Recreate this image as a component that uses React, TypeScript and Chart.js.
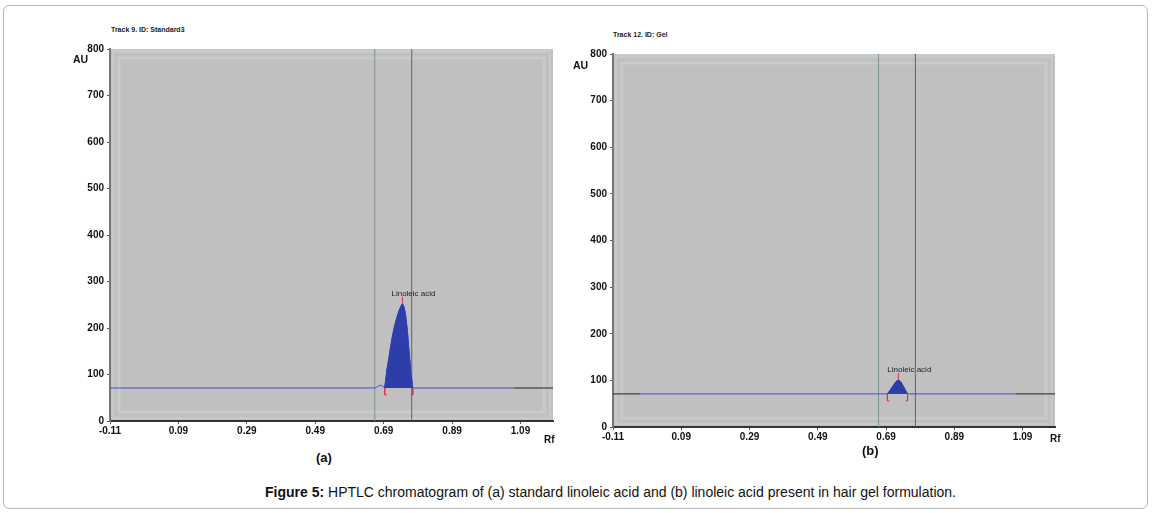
import React, { useEffect, useRef } from "react";
import { Chart, registerables } from "chart.js";
Chart.register(...registerables);

// ---- data ----
const xTickValues = [-0.11, 0.09, 0.29, 0.49, 0.69, 0.89, 1.09];
const yTickValues = [0, 100, 200, 300, 400, 500, 600, 700, 800];
const baselineAU = 71;

// Panel (a) – Track 9, Standard3
const bumpA_rf = [0.664, 0.672, 0.68, 0.687, 0.693];
const bumpA_au = [71, 74, 77, 75, 71];
const peakA_rf = [0.693, 0.7, 0.708, 0.715, 0.722, 0.73, 0.737, 0.742, 0.745, 0.75, 0.754, 0.759, 0.763, 0.769, 0.775];
const peakA_au = [71, 112, 148, 180, 205, 226, 241, 249, 252, 244, 228, 196, 160, 108, 71];
const windowA_rf = [0.664, 0.772];
const traceA_range = [-0.11, 1.07];

// Panel (b) – Track 12, Gel
const peakB_rf = [0.694, 0.703, 0.712, 0.72, 0.726, 0.733, 0.741, 0.748, 0.753];
const peakB_au = [71, 80, 90, 98, 101, 97, 87, 77, 71];
const windowB_rf = [0.668, 0.776];
const traceB_range = [-0.03, 1.07];

const X_MIN = -0.11;
const X_MAX = 1.185;

type Panel = {
  title: string;
  bump: { x: number; y: number }[];
  peak: { x: number; y: number }[];
  windowRf: number[];
  traceRange: number[];
  pad: { top: number; right: number };
  yW: number;
  xH: number;
};

const toPts = (xs: number[], ys: number[]) => xs.map((x, i) => ({ x, y: ys[i] }));

const panels: Panel[] = [
  {
    title: "Track 9. ID: Standard3",
    bump: toPts(bumpA_rf, bumpA_au),
    peak: toPts(peakA_rf, peakA_au),
    windowRf: windowA_rf,
    traceRange: traceA_range,
    pad: { top: 9, right: 7 },
    yW: 50,
    xH: 29,
  },
  {
    title: "Track 12. ID: Gel",
    bump: [],
    peak: toPts(peakB_rf, peakB_au),
    windowRf: windowB_rf,
    traceRange: traceB_range,
    pad: { top: 9, right: 8 },
    yW: 50,
    xH: 28,
  },
];

const tickFont = "'Liberation Sans Narrow', 'Arial Narrow', 'Liberation Sans', Arial, sans-serif";

const bgPlugin = {
  id: "plotBg",
  beforeDraw(chart: any) {
    const { ctx, chartArea: a } = chart;
    ctx.save();
    ctx.fillStyle = "#c0c0c0";
    ctx.fillRect(a.left, a.top, a.right - a.left, a.bottom - a.top);
    ctx.strokeStyle = "rgba(200,208,200,0.75)";
    ctx.lineWidth = 3;
    ctx.strokeRect(a.left + 9, a.top + 9, a.right - a.left - 18, a.bottom - a.top - 18);
    ctx.strokeStyle = "rgba(204,206,204,0.7)";
    ctx.lineWidth = 2;
    ctx.strokeRect(a.left + 3, a.top + 3, a.right - a.left - 6, a.bottom - a.top - 6);
    ctx.fillStyle = "#c8c8c8";
    ctx.fillRect(a.left, a.top, a.right - a.left, 2);
    ctx.restore();
  },
};

const labelPlugin = {
  id: "peakLabel",
  afterDatasetsDraw(chart: any) {
    const peak = (chart.options.plugins as any).peakLabel?.peak as { x: number; y: number }[];
    if (!peak || !peak.length) return;
    let apex = peak[0];
    peak.forEach((p) => {
      if (p.y > apex.y) apex = p;
    });
    const xs = chart.scales.x;
    const ys = chart.scales.y;
    const px = xs.getPixelForValue(apex.x);
    const py = ys.getPixelForValue(apex.y);
    const ctx = chart.ctx;
    ctx.save();
    ctx.strokeStyle = "#e0304a";
    ctx.lineWidth = 1;
    ctx.beginPath();
    ctx.moveTo(px, py);
    ctx.lineTo(px, py - 7);
    ctx.stroke();
    ctx.fillStyle = "#222";
    ctx.font = "8px 'Liberation Sans', Arial, sans-serif";
    ctx.textAlign = "center";
    ctx.textBaseline = "bottom";
    ctx.fillText("Linoleic acid", px + 11, py - 6);
    ctx.restore();
  },
};

function PanelChart({ p, style }: { p: Panel; style: React.CSSProperties }) {
  const ref = useRef<HTMLCanvasElement>(null);
  useEffect(() => {
    if (!ref.current) return;
    const last = p.peak[p.peak.length - 1];
    const trace = [
      { x: p.traceRange[0], y: baselineAU },
      ...p.bump,
      ...p.peak,
      { x: p.traceRange[1], y: baselineAU },
    ];
    const blackBase: any[] = [];
    if (p.traceRange[0] > X_MIN) {
      blackBase.push({ x: X_MIN, y: baselineAU }, { x: p.traceRange[0], y: baselineAU }, { x: (X_MIN + p.traceRange[0]) / 2 + 0.3, y: null });
    }
    blackBase.push({ x: p.traceRange[1], y: baselineAU }, { x: X_MAX, y: baselineAU });
    const s = p.peak[0].x;
    const e = last.x;
    const bracketL = [
      { x: s, y: baselineAU },
      { x: s, y: baselineAU - 15 },
      { x: s + 0.006, y: baselineAU - 15 },
    ];
    const bracketR = [
      { x: e, y: baselineAU },
      { x: e, y: baselineAU - 15 },
      { x: e - 0.006, y: baselineAU - 15 },
    ];
    const common = { showLine: true, pointRadius: 0, tension: 0 };
    const chart = new Chart(ref.current, {
      type: "scatter",
      data: {
        datasets: [
          {
            ...common,
            data: blackBase,
            borderColor: "#222",
            borderWidth: 1,
            spanGaps: false,
          },
          {
            ...common,
            data: p.peak,
            borderColor: "#2e3fb0",
            backgroundColor: "#2d3eaa",
            borderWidth: 1,
            fill: { value: baselineAU },
          },
          {
            ...common,
            data: trace,
            borderColor: "#4b4ad8",
            borderWidth: 1,
          },
          {
            ...common,
            data: [
              { x: p.windowRf[0], y: 0 },
              { x: p.windowRf[0], y: 800 },
            ],
            borderColor: "#7d928e",
            borderWidth: 1,
          },
          {
            ...common,
            data: [
              { x: p.windowRf[1], y: 0 },
              { x: p.windowRf[1], y: 800 },
            ],
            borderColor: "#5e6462",
            borderWidth: 1,
          },
          { ...common, data: bracketL, borderColor: "#e0304a", borderWidth: 1 },
          { ...common, data: bracketR, borderColor: "#e0304a", borderWidth: 1 },
        ],
      } as any,
      options: {
        animation: false,
        responsive: false,
        maintainAspectRatio: false,
        layout: { padding: { top: p.pad.top, right: p.pad.right, left: 0, bottom: 0 } },
        plugins: {
          legend: { display: false },
          tooltip: { enabled: false },
          peakLabel: { peak: p.peak },
        } as any,
        scales: {
          x: {
            type: "linear",
            min: X_MIN,
            max: X_MAX,
            afterBuildTicks: (sc: any) => {
              sc.ticks = xTickValues.map((v) => ({ value: v }));
            },
            afterFit: (sc: any) => {
              sc.height = p.xH;
            },
            ticks: {
              autoSkip: false,
              maxRotation: 0,
              padding: 1,
              color: "#111",
              font: { family: tickFont, size: 10, weight: "bold" },
              callback: (v: any) => Number(v).toFixed(2),
            },
            grid: { display: true, drawOnChartArea: false, drawTicks: true, tickLength: 3, color: "#555" },
            border: { display: true, color: "#333", width: 2 },
          },
          y: {
            type: "linear",
            min: 0,
            max: 800,
            afterBuildTicks: (sc: any) => {
              sc.ticks = yTickValues.map((v) => ({ value: v }));
            },
            afterFit: (sc: any) => {
              sc.width = p.yW;
            },
            ticks: {
              autoSkip: false,
              padding: 3,
              color: "#111",
              font: { family: tickFont, size: 10, weight: "bold" },
            },
            grid: { display: true, drawOnChartArea: false, drawTicks: true, tickLength: 3, color: "#555" },
            border: { display: true, color: "#777", width: 2 },
          },
        },
      } as any,
      plugins: [bgPlugin, labelPlugin],
    });
    return () => chart.destroy();
  }, [p]);
  return <canvas ref={ref} width={500} height={410} style={{ position: "absolute", ...style }} />;
}

const font = "'Liberation Sans', Arial, sans-serif";

export default function App() {
  return (
    <div style={{ position: "absolute", left: 0, top: 0, width: 1152, height: 513, background: "#fff", fontFamily: font }}>
      <div
        style={{
          position: "absolute",
          left: 3,
          top: 5,
          width: 1143,
          height: 502,
          border: "1px solid #b8b8b8",
          borderRadius: 6,
        }}
      />
      <PanelChart p={panels[0]} style={{ left: 60, top: 40, width: 500, height: 410 }} />
      <PanelChart p={panels[1]} style={{ left: 563, top: 45, width: 500, height: 410 }} />

      <div style={{ position: "absolute", left: 111, top: 26, fontSize: 7, fontWeight: "bold", color: "#222" }}>
        {panels[0].title}
      </div>
      <div style={{ position: "absolute", left: 613, top: 31, fontSize: 7, fontWeight: "bold", color: "#222" }}>
        {panels[1].title}
      </div>
      <div style={{ position: "absolute", left: 73, top: 53, fontSize: 10.5, fontWeight: "bold", color: "#111", fontFamily: tickFont }}>AU</div>
      <div style={{ position: "absolute", left: 573, top: 59, fontSize: 10.5, fontWeight: "bold", color: "#111", fontFamily: tickFont }}>AU</div>
      <div style={{ position: "absolute", left: 544, top: 434, fontSize: 10, fontWeight: "bold", color: "#111", fontFamily: tickFont }}>Rf</div>
      <div style={{ position: "absolute", left: 1050, top: 433, fontSize: 10, fontWeight: "bold", color: "#111", fontFamily: tickFont }}>Rf</div>
      <div style={{ position: "absolute", left: 316, top: 450, fontSize: 13, fontWeight: "bold", color: "#111" }}>(a)</div>
      <div style={{ position: "absolute", left: 862, top: 443, fontSize: 13, fontWeight: "bold", color: "#111" }}>(b)</div>
      <div
        style={{
          position: "absolute",
          left: 265,
          top: 484,
          fontSize: 14,
          color: "#111",
          whiteSpace: "nowrap",
        }}
      >
        <b>Figure 5:</b> HPTLC chromatogram of (a) standard linoleic acid and (b) linoleic acid present in hair gel formulation.
      </div>
    </div>
  );
}
